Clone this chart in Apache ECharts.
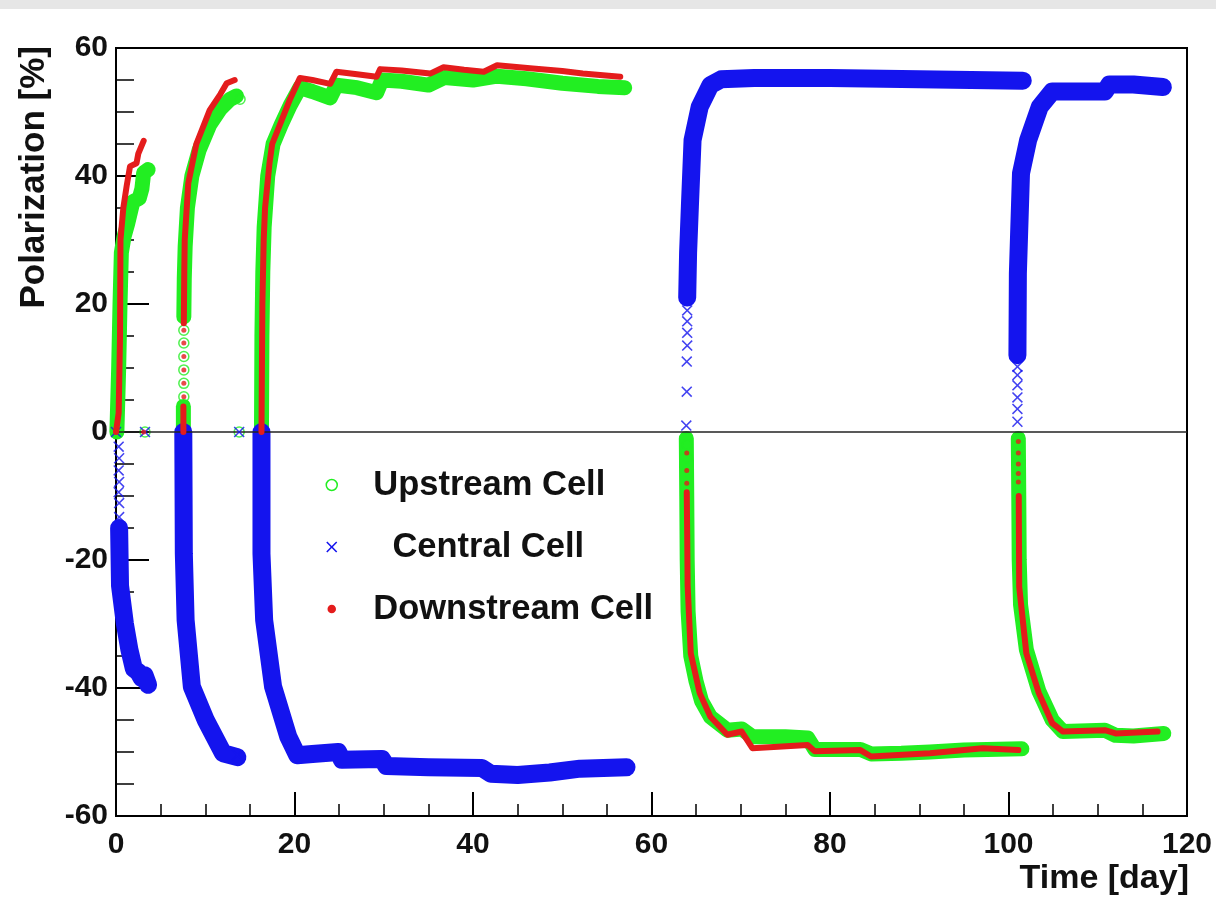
<!DOCTYPE html>
<html>
<head>
<meta charset="utf-8">
<title>Polarization vs time</title>
<script src="https://cdn.jsdelivr.net/npm/echarts@6/dist/echarts.min.js"></script>
<style>
html, body { margin: 0; padding: 0; background: #fff; }
#main { width: 1216px; height: 909px; }
</style>
</head>
<body>
<div id="main"></div>
<script>
// tick values of the two axes
var xTicks = [0, 20, 40, 60, 80, 100, 120];
var yTicks = [-60, -40, -20, 0, 20, 40, 60];

// dense runs of points, one array per build-up / reversal, [day, polarization %]
var upstreamSegments = [
  [[0.1, 0], [0.3, 10], [0.45, 20], [0.6, 28], [0.9, 30.5], [1.3, 32.5], [1.9, 36], [2.6, 36.5], [2.9, 38], [3.1, 40.5], [3.6, 41]],
  [[7.55, 0], [7.55, 4]],
  [[7.6, 18], [7.65, 24], [7.75, 29], [8.0, 35], [8.5, 40], [9.3, 44], [10.5, 48], [11.7, 50.5], [12.8, 52], [13.5, 52.5]],
  [[16.3, 0], [16.35, 15], [16.45, 25], [16.6, 32], [17.0, 40], [17.6, 45], [18.5, 48], [19.5, 51], [20.6, 53.8], [22, 53.2], [24, 52.2],
   [24.7, 54.2], [27, 53.8], [29.2, 53], [29.8, 55], [32, 54.8], [35, 54.2], [36.8, 55.4], [40, 55], [42.7, 55.6], [46, 55.2], [50, 54.5], [54, 54], [57, 53.8]],
  [[63.9, -1], [63.95, -10], [64.0, -20], [64.1, -28], [64.4, -35], [65.0, -39], [65.6, -42], [66.6, -44.5], [68.5, -46.6], [70.1, -46.4],
   [71.3, -47.6], [75, -47.6], [77.5, -47.8], [78.3, -49.6], [83.4, -49.6], [84.6, -50.3], [88, -50.2], [91.2, -50], [95, -49.7], [101.5, -49.5]],
  [[101.1, -1], [101.15, -10], [101.2, -20], [101.35, -27], [102, -34], [103.4, -40.5], [104.9, -45], [106.1, -46.8], [110.8, -46.6],
   [112, -47.4], [114, -47.5], [117.4, -47.1]]
];
var upstreamMarks = [[3.25, 0], [13.8, 0], [7.6, 5.5], [7.6, 7.6], [7.6, 9.7], [7.6, 11.8], [7.6, 13.9], [7.6, 15.9], [13.9, 52],
  [64, -2], [64, -4], [101.1, -2], [101.1, -4]];

var centralSegments = [
  [[0.35, -15], [0.45, -24], [1.0, -30], [1.5, -34], [2.0, -37], [2.5, -37.5], [2.9, -38.5], [3.2, -38], [3.6, -39.5]],
  [[7.54, 0], [7.6, -19], [7.8, -29.4], [8.5, -39.8], [10.05, -45], [12, -50.2], [13.6, -50.8]],
  [[16.3, 0], [16.3, -19], [16.6, -29.4], [17.6, -39.8], [19.3, -47.6], [20.3, -50.5], [22, -50.3], [24.9, -50], [25.3, -51.2], [29.8, -51.1],
   [30.3, -52.2], [35, -52.4], [41, -52.5], [42, -53.4], [45, -53.6], [48.6, -53.2], [52, -52.6], [57.2, -52.4]],
  [[64.0, 21], [64.1, 28], [64.3, 35.2], [64.6, 45.6], [65.4, 50.8], [66.6, 54.2], [67.8, 55.1], [71.5, 55.3], [80, 55.3], [90, 55.1], [101.6, 54.9]],
  [[101.0, 12], [101.05, 24.8], [101.4, 40.4], [102.2, 45.6], [103.5, 50.8], [104.9, 53.2], [106.9, 53.2], [110.8, 53.2], [111.3, 54.3],
   [114, 54.3], [117.3, 53.9]]
];
var centralMarks = [[0, 0], [0.3, -2.3], [0.35, -4.1], [0.3, -6], [0.35, -7.8], [0.3, -9.4], [0.35, -11.1], [0.35, -13.3],
  [3.25, 0], [13.8, 0], [13.6, -50.5],
  [63.9, 1], [63.95, 6.3], [63.95, 11], [64, 13.5], [64, 15.5], [64, 17.3], [64, 19],
  [101, 1.6], [101, 3.6], [101, 5.4], [101, 7.3], [101, 8.9], [101, 10.2]];

var downstreamSegments = [
  [[0, 0], [0.3, 3], [0.45, 15], [0.5, 30], [0.82, 35], [1.2, 38.5], [1.57, 41.5], [2.3, 42], [2.5, 43.5], [3.1, 45.5]],
  [[7.55, 0], [7.55, 4]],
  [[7.6, 17], [7.65, 25], [7.7, 30], [8.1, 38.9], [9.0, 45], [10.5, 50.3], [11.7, 52.8], [12.4, 54.5], [13.3, 55]],
  [[16.3, 0], [16.4, 20], [16.55, 30], [16.7, 35], [17.2, 42], [17.5, 45], [18.5, 48.5], [19.5, 52], [20.6, 55.3], [22, 55], [24, 54.4],
   [24.7, 56.3], [27, 55.9], [29.2, 55.5], [29.6, 56.7], [32, 56.5], [35.2, 56], [36.7, 57], [39, 56.6], [41.2, 56.3], [42.7, 57.3],
   [46.7, 56.8], [50, 56.4], [52.3, 56], [56.5, 55.5]],
  [[63.95, -9.4], [64.0, -16], [64.05, -24], [64.4, -34.6], [65.4, -40.8], [66.6, -44.5], [68.5, -47.3], [70.1, -46.8], [71.3, -49.4],
   [77.5, -48.9], [78.3, -49.9], [83.4, -49.7], [84.6, -50.7], [91.2, -50.2], [97.1, -49.4], [101.1, -49.7]],
  [[101.15, -10], [101.2, -24.2], [102, -34.6], [103.4, -40.8], [104.9, -45.5], [106.1, -46.8], [110.8, -46.6], [112, -47.1], [116.7, -46.8]]
];
var downstreamMarks = [[3.1, 0], [7.6, 5.5], [7.6, 7.6], [7.6, 9.7], [7.6, 11.8], [7.6, 13.9], [7.6, 15.9],
  [63.95, -3.3], [63.95, -6], [63.95, -8], [101.1, -1.5], [101.1, -3.3], [101.1, -5], [101.1, -6.5], [101.1, -7.8]];

var GREEN = '#22ee22', BLUE = '#1414ee', RED = '#e41c1c';
var CROSS = 'path://M0,1L1,0L5,4L9,0L10,1L6,5L10,9L9,10L5,6L1,10L0,9L4,5Z';
var FONT = 'Liberation Sans';

function band(name, segs, color, width, z) {
  return segs.map(function (seg) {
    return {
      name: name, type: 'line', data: seg, symbol: 'none', showSymbol: false, silent: true, z: z,
      itemStyle: { color: color },
      lineStyle: { color: color, width: width, cap: 'round', join: 'round' }
    };
  });
}

var series = [].concat(
  band('Upstream Cell', upstreamSegments, GREEN, 15, 2),
  [{ name: 'Upstream Cell', type: 'scatter', data: upstreamMarks, symbol: 'circle', symbolSize: 10, silent: true, z: 3,
     itemStyle: { color: 'rgba(0,0,0,0)', borderColor: GREEN, borderWidth: 1.5 } }],
  band('Central Cell', centralSegments, BLUE, 18, 4),
  [{ name: 'Central Cell', type: 'scatter', data: centralMarks, symbol: CROSS, symbolSize: 11, silent: true, z: 5,
     itemStyle: { color: BLUE } }],
  band('Downstream Cell', downstreamSegments, RED, 6, 6),
  [{ name: 'Downstream Cell', type: 'scatter', data: downstreamMarks, symbol: 'circle', symbolSize: 5, silent: true, z: 7,
     itemStyle: { color: RED } }]
);

// zero line across the frame
series[0].markLine = {
  silent: true, symbol: ['none', 'none'], label: { show: false },
  lineStyle: { color: '#222', width: 1.5, type: 'solid' },
  data: [{ yAxis: 0 }]
};

var tickLabel = { fontSize: 30, fontWeight: 'bold', fontFamily: FONT, color: '#111' };

var chart = echarts.init(document.getElementById('main'));
chart.setOption({
  animation: false,
  backgroundColor: '#fff',
  grid: { left: 116, right: 29, top: 48, bottom: 93, show: true, borderColor: '#000', borderWidth: 2,
          containLabel: false, outerBoundsMode: 'none' },
  xAxis: {
    type: 'value', min: xTicks[0], max: xTicks[xTicks.length - 1], interval: xTicks[1] - xTicks[0],
    axisLine: { show: true, onZero: false, lineStyle: { color: '#000', width: 2 } },
    axisTick: { show: true, inside: true, length: 24, lineStyle: { color: '#000', width: 2 } },
    minorTick: { show: true, splitNumber: 4, length: 12, lineStyle: { color: '#000', width: 1.5 } },
    splitLine: { show: false }, minorSplitLine: { show: false },
    axisLabel: Object.assign({ margin: 14, showMinLabel: true, showMaxLabel: true }, tickLabel)
  },
  yAxis: {
    type: 'value', min: yTicks[0], max: yTicks[yTicks.length - 1], interval: yTicks[1] - yTicks[0],
    axisLine: { show: true, onZero: false, lineStyle: { color: '#000', width: 2 } },
    axisTick: { show: true, inside: true, length: 33, lineStyle: { color: '#000', width: 2 } },
    minorTick: { show: true, splitNumber: 4, length: 18, lineStyle: { color: '#000', width: 1.5 } },
    splitLine: { show: false }, minorSplitLine: { show: false },
    axisLabel: Object.assign({ margin: 8, showMinLabel: true, showMaxLabel: true }, tickLabel)
  },
  legend: {
    orient: 'vertical', left: 325, top: 465, padding: 0, itemGap: 22, itemWidth: 11, itemHeight: 11,
    selectedMode: false,
    textStyle: { fontSize: 34.5, fontWeight: 'bold', fontFamily: FONT, color: '#111', lineHeight: 40, padding: [0, 0, 0, 31] },
    formatter: function (name) { return name === 'Central Cell' ? '  ' + name : name; },
    data: [
      { name: 'Upstream Cell', icon: 'circle', itemStyle: { color: 'rgba(0,0,0,0)', borderColor: GREEN, borderWidth: 1.5 } },
      { name: 'Central Cell', icon: CROSS, itemStyle: { color: BLUE, borderWidth: 0 } },
      { name: 'Downstream Cell', icon: 'circle', itemStyle: { color: RED, borderColor: '#fff', borderWidth: 2.5 } }
    ]
  },
  graphic: [
    { type: 'rect', left: 0, top: 0, shape: { width: 1216, height: 9 }, style: { fill: '#e6e6e6' }, silent: true },
    { type: 'text', x: 34, y: 46, rotation: Math.PI / 2, silent: true,
      style: { text: 'Polarization [%]', align: 'right', verticalAlign: 'middle', fontSize: 35, fontWeight: 'bold', fontFamily: FONT, fill: '#111' } },
    { type: 'text', x: 1189, y: 879, silent: true,
      style: { text: 'Time [day]', align: 'right', verticalAlign: 'middle', fontSize: 34, fontWeight: 'bold', fontFamily: FONT, fill: '#111' } }
  ],
  series: series
});
</script>
</body>
</html>
